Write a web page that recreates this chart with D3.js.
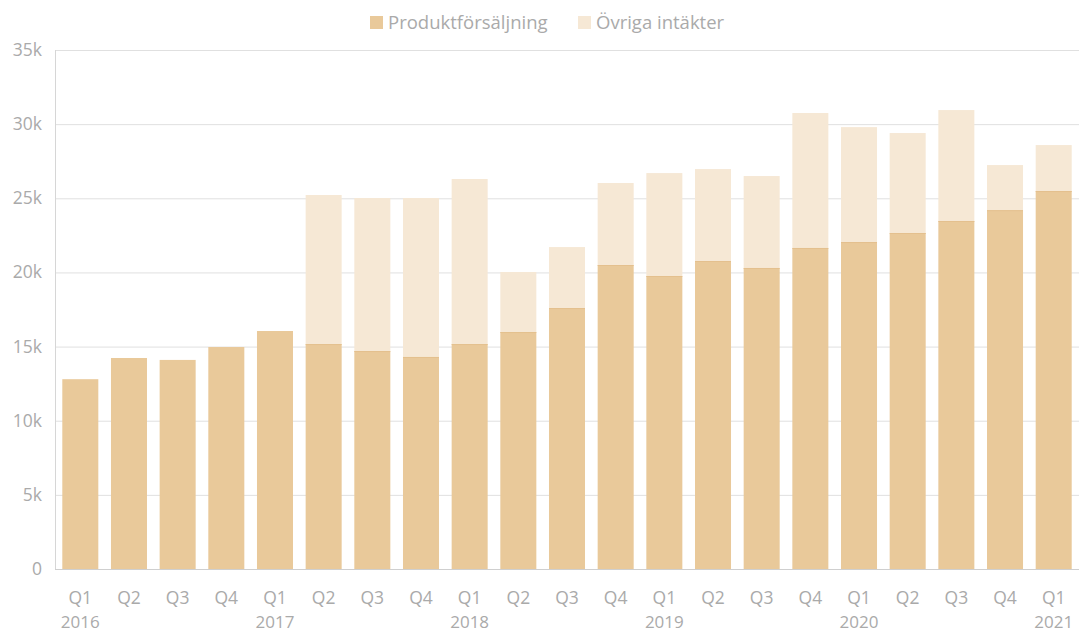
<!DOCTYPE html>
<html>
<head>
<meta charset="utf-8">
<script src="https://cdn.jsdelivr.net/npm/d3@7"></script>
<style>
  body { margin: 0; background: #fff; }
  svg text { font-family: "Open Sans", Lato, sans-serif; fill: #aaa; }
</style>
</head>
<body>
<svg id="chart" width="1079" height="635"></svg>
<script>
// quarters and years along the bottom
const quarters = ['Q1','Q2','Q3','Q4','Q1','Q2','Q3','Q4','Q1','Q2','Q3','Q4','Q1','Q2','Q3','Q4','Q1','Q2','Q3','Q4','Q1'];
const years = ['2016','','','','2017','','','','2018','','','','2019','','','','2020','','','','2021'];
// values in thousands
const produkt = [12.8, 14.23, 14.1, 14.97, 16.05, 15.17, 14.7, 14.3, 15.17, 15.98, 17.6, 20.5, 19.76, 20.77, 20.3, 21.65, 22.05, 22.66, 23.47, 24.2, 25.49];
const ovriga  = [0, 0, 0, 0, 0, 10.05, 10.32, 10.72, 11.13, 4.05, 4.11, 5.53, 6.94, 6.2, 6.2, 9.1, 7.75, 6.74, 7.48, 3.04, 3.1];
const seriesNames = ['Produktförsäljning', 'Övriga intäkter'];
const colors = ['#e9c99a', '#f6e8d5'];
const yTicks = [0, 5, 10, 15, 20, 25, 30, 35];

const svg = d3.select('#chart');
const m = { left: 55, right: 1079, top: 50, bottom: 569 };

const x = d3.scaleBand()
    .domain(d3.range(quarters.length))
    .range([m.left, m.right])
    .paddingInner(0.26).paddingOuter(0.15);

const y = d3.scaleLinear().domain([0, 35]).range([m.bottom, m.top]);

// grid lines
svg.append('g')
    .selectAll('line')
    .data(yTicks.filter(d => d > 0))
    .enter().append('line')
    .attr('x1', m.left).attr('x2', m.right)
    .attr('y1', d => y(d) + 0.5).attr('y2', d => y(d) + 0.5)
    .attr('stroke', '#e0e0e0').attr('stroke-width', 1);

// y labels
svg.append('g')
    .selectAll('text')
    .data(yTicks)
    .enter().append('text')
    .attr('x', 42).attr('y', d => y(d) + 6)
    .attr('text-anchor', 'end')
    .attr('font-size', 17.5)
    .text(d => d === 0 ? '0' : d + 'k');

// stacked bars
const rows = quarters.map((q, i) => ({ i: i, a: produkt[i], b: ovriga[i] }));
const stack = d3.stack().keys(['a', 'b'])(rows);

svg.append('g')
    .selectAll('g')
    .data(stack)
    .enter().append('g')
    .attr('fill', (d, k) => colors[k])
    .selectAll('rect')
    .data(d => d.filter(s => s[1] > s[0]))
    .enter().append('rect')
    .attr('x', d => x(d.data.i))
    .attr('width', x.bandwidth())
    .attr('y', d => y(d[1]))
    .attr('height', d => y(d[0]) - y(d[1]));

// thin edge on top of product segment
svg.append('g')
    .selectAll('line')
    .data(rows.filter(d => d.b > 0))
    .enter().append('line')
    .attr('x1', d => x(d.i)).attr('x2', d => x(d.i) + x.bandwidth())
    .attr('y1', d => y(d.a) + 0.5).attr('y2', d => y(d.a) + 0.5)
    .attr('stroke', '#e4c08e').attr('stroke-width', 1);

// axis lines
svg.append('line')
    .attr('x1', m.left + 0.5).attr('x2', m.left + 0.5)
    .attr('y1', m.top).attr('y2', m.bottom)
    .attr('stroke', '#d6d6d6');
svg.append('line')
    .attr('x1', m.left).attr('x2', m.right)
    .attr('y1', m.bottom + 0.5).attr('y2', m.bottom + 0.5)
    .attr('stroke', '#cfcfcf');

// x labels
const xl = svg.append('g');
xl.selectAll('text.q')
    .data(quarters)
    .enter().append('text')
    .attr('class', 'q')
    .attr('x', (d, i) => x(i) + x.bandwidth() / 2)
    .attr('y', 604)
    .attr('text-anchor', 'middle')
    .attr('font-size', 17.5)
    .text(d => d);
xl.selectAll('text.yr')
    .data(years)
    .enter().append('text')
    .attr('class', 'yr')
    .attr('x', (d, i) => x(i) + x.bandwidth() / 2)
    .attr('y', 628)
    .attr('text-anchor', 'middle')
    .attr('font-size', 17)
    .text(d => d);

// legend
const legend = svg.append('g');
const legX = [370, 578];
seriesNames.forEach((name, k) => {
    legend.append('rect')
        .attr('x', legX[k]).attr('y', 16)
        .attr('width', 13).attr('height', 13)
        .attr('fill', colors[k]);
    legend.append('text')
        .attr('x', legX[k] + 18).attr('y', 28.5)
        .attr('font-size', 18.5)
        .text(name);
});
</script>
</body>
</html>
